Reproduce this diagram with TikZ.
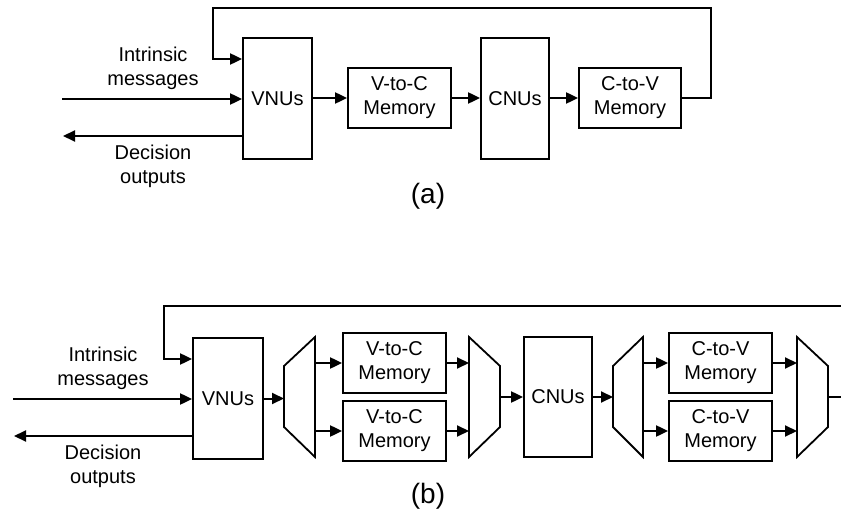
\documentclass[tikz,border=0pt]{standalone}
\usepackage{fontspec}
\setmainfont{Liberation Sans}
\usetikzlibrary{arrows.meta}
\begin{document}
\begin{tikzpicture}[x=1pt,y=-1pt,
  line width=2pt,
  every node/.style={font=\fontsize{20}{24}\selectfont, inner sep=0pt, align=center},
  blk/.style={draw, line width=1.8pt},
  lbl/.style={font=\fontsize{28}{30}\selectfont},
  arr/.style={-{Triangle[length=12pt,width=11pt]}},
  trap/.style={draw, line width=1.8pt, line join=miter}
]
\useasboundingbox (0,0) rectangle (841,516);

% ---------------- (a) serial decoder ----------------
\node[blk, minimum width=69pt, minimum height=121pt] (vnuA) at (277.5,98.5) {VNUs};
\node[blk, minimum width=103pt, minimum height=60pt] (vcA) at (399.5,98) {V-to-C\\Memory};
\node[blk, minimum width=68pt, minimum height=121pt] (cnuA) at (515,98.5) {CNUs};
\node[blk, minimum width=102pt, minimum height=60pt] (cvA) at (630,98) {C-to-V\\Memory};

\coordinate (inA) at (62,99);
\coordinate (outA) at (63,136);
\draw[arr] (inA) -- (inA -| vnuA.west);
\draw[arr] (outA -| vnuA.west) -- (outA);
\node (imA) at (153,68) {Intrinsic\\messages};
\node (doA) at (153,166) {Decision\\outputs};

\draw[arr] (vnuA.east |- vcA.west) -- (vcA.west);
\draw[arr] (vcA.east) -- (cnuA.west |- vcA.east);
\draw[arr] (cnuA.east |- cvA.west) -- (cvA.west);
\draw[arr] (cvA.east) -- (711,98) -- (711,8) -- (213,8) -- (213,59) -- (vnuA.west |- 0,59);

\node[lbl] (capA) at (428,196) {(a)};

% ---------------- (b) parallel decoder ----------------
\node[blk, minimum width=70pt, minimum height=121pt] (vnuB) at (228,398.5) {VNUs};
\node[blk, minimum width=103pt, minimum height=60pt] (vc1) at (394.5,363) {V-to-C\\Memory};
\node[blk, minimum width=103pt, minimum height=60pt] (vc2) at (394.5,431) {V-to-C\\Memory};
\node[blk, minimum width=68pt, minimum height=120pt] (cnuB) at (558,397) {CNUs};
\node[blk, minimum width=103pt, minimum height=60pt] (cv1) at (720.5,363) {C-to-V\\Memory};
\node[blk, minimum width=103pt, minimum height=60pt] (cv2) at (720.5,431) {C-to-V\\Memory};

% demultiplexer / multiplexer trapezoids
\draw[trap] (284,366) -- (315,337) -- (315,457) -- (284,427) -- cycle;
\coordinate (dm1in) at (284,398.5);
\coordinate (dm1o1) at (315,363);
\coordinate (dm1o2) at (315,431);
\draw[trap] (469,337) -- (500,366) -- (500,427) -- (469,457) -- cycle;
\coordinate (mx1i1) at (469,363);
\coordinate (mx1i2) at (469,431);
\coordinate (mx1out) at (500,397);
\draw[trap] (613,366) -- (643,337) -- (643,457) -- (613,427) -- cycle;
\coordinate (dm2in) at (613,397);
\coordinate (dm2o1) at (643,363);
\coordinate (dm2o2) at (643,431);
\draw[trap] (797,337) -- (828,366) -- (828,427) -- (797,457) -- cycle;
\coordinate (mx2i1) at (797,363);
\coordinate (mx2i2) at (797,431);
\coordinate (mx2out) at (828,397);

\coordinate (inB) at (13,399);
\coordinate (outB) at (14,436);
\draw[arr] (inB) -- (inB -| vnuB.west);
\draw[arr] (outB -| vnuB.west) -- (outB);
\node (imB) at (103,368) {Intrinsic\\messages};
\node (doB) at (103,466) {Decision\\outputs};

\draw[arr] (vnuB.east |- dm1in) -- (dm1in);
\draw[arr] (dm1o1) -- (vc1.west);
\draw[arr] (dm1o2) -- (vc2.west);
\draw[arr] (vc1.east) -- (mx1i1);
\draw[arr] (vc2.east) -- (mx1i2);
\draw[arr] (mx1out) -- (cnuB.west |- mx1out);
\draw[arr] (cnuB.east |- dm2in) -- (dm2in);
\draw[arr] (dm2o1) -- (cv1.west);
\draw[arr] (dm2o2) -- (cv2.west);
\draw[arr] (cv1.east) -- (mx2i1);
\draw[arr] (cv2.east) -- (mx2i2);
\draw (mx2out) -- (841,397);
\draw[arr] (841,306) -- (164,306) -- (164,359) -- (vnuB.west |- 0,359);

\node[lbl] (capB) at (428,496) {(b)};
\end{tikzpicture}
\end{document}
